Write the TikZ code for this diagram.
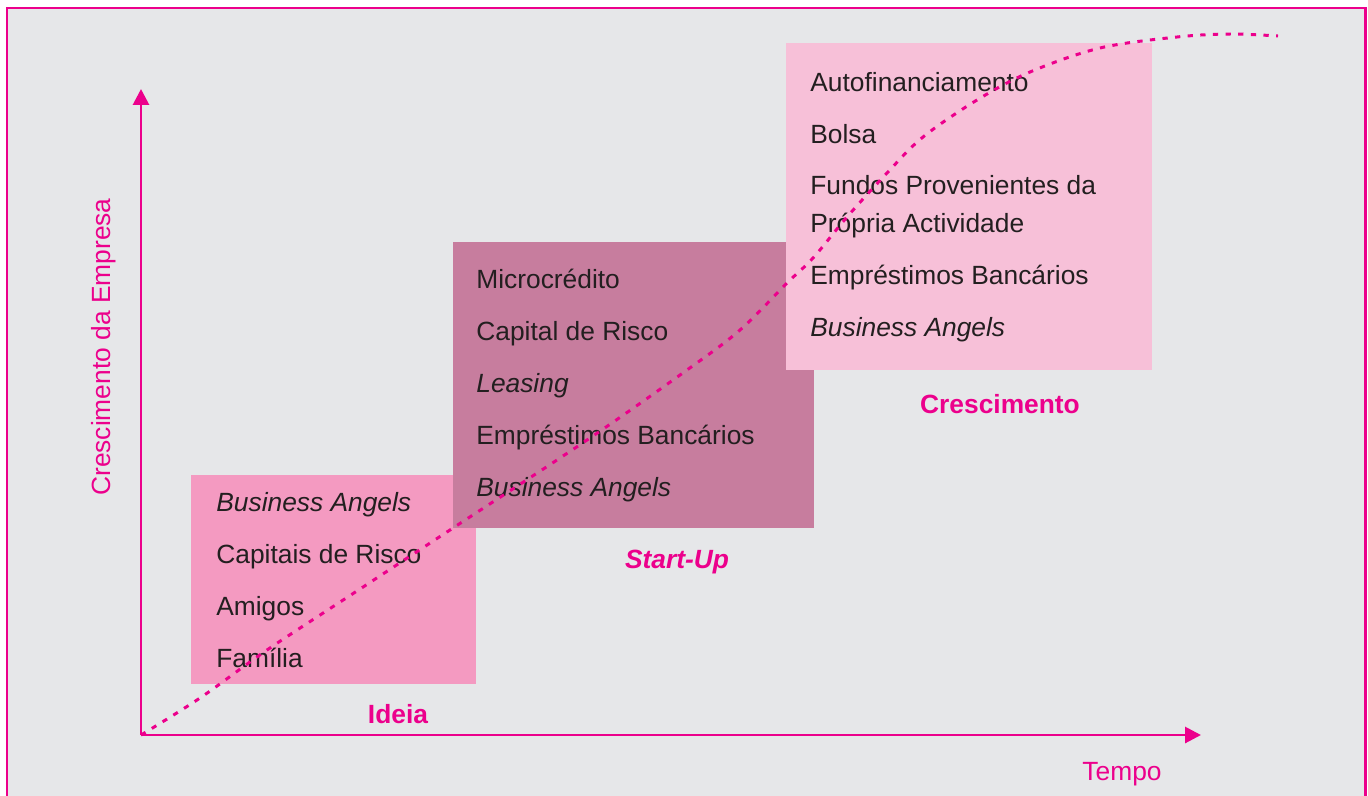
\documentclass[tikz,border=0pt]{standalone}
\usepackage{fontspec}
\setmainfont{Liberation Sans}
\usetikzlibrary{arrows.meta}

\definecolor{framepink}{HTML}{EC008C}
\definecolor{bggray}{HTML}{E6E7E9}
\definecolor{ideiafill}{HTML}{F49AC1}
\definecolor{startfill}{HTML}{C77D9E}
\definecolor{crescfill}{HTML}{F7C0D8}
\definecolor{txt}{HTML}{231F20}

\begin{document}
\begin{tikzpicture}[x=0.02cm, y=-0.02cm,
    item/.style={anchor=base west, inner sep=0pt, text=txt, font=\fontsize{15pt}{18pt}\selectfont},
    stage/.style={anchor=base, inner sep=0pt, text=framepink, font=\fontsize{15pt}{18pt}\selectfont\bfseries},
    axislabel/.style={anchor=base, inner sep=0pt, text=framepink, font=\fontsize{15pt}{18pt}\selectfont},
    axis/.style={-{Triangle[length=9pt,width=9pt]}, line width=1.6pt, draw=framepink},
    growth/.style={draw=framepink, line width=1.7pt, dash pattern=on 3pt off 4.2pt}]

    \clip (0,0) rectangle (1368,795);
    \fill[bggray] (7,8) rectangle (1365,830);
    \draw[framepink, line width=1.7pt] (7,830) -- (7,8) -- (1365,8) -- (1365,830);

    % axes
    \coordinate (o) at (141,735);
    \coordinate (ytip) at (141,89);
    \coordinate (xtip) at (1201,735);
    \draw[axis] (o) -- (ytip);
    \draw[axis] (o) -- (xtip);
    \node[axislabel, rotate=90] (ylab) at (110,347) {Crescimento da Empresa};
    \node[axislabel] (tempo) at (1122,780) {Tempo};

    % Ideia
    \fill[ideiafill] (191,475) rectangle (476,684);
    \node[item] (i1) at (216,511) {\itshape Business Angels};
    \node[item] (i2) at (216,563) {Capitais de Risco};
    \node[item] (i3) at (216,615) {Amigos};
    \node[item] (i4) at (216,667) {Família};
    \node[stage] (ideia) at (398,723) {Ideia};

    % Start-Up
    \fill[startfill] (453,242) rectangle (814,528);
    \node[item] (s1) at (476,288) {Microcrédito};
    \node[item] (s2) at (476,340) {Capital de Risco};
    \node[item] (s3) at (476,392) {\itshape Leasing};
    \node[item] (s4) at (476,444) {Empréstimos Bancários};
    \node[item] (s5) at (476,496) {\itshape Business Angels};
    \node[stage] (startup) at (677,568) {\itshape Start-Up};

    % Crescimento
    \fill[crescfill] (786,43) rectangle (1152,370);
    \node[item] (c1) at (810,91) {Autofinanciamento};
    \node[item] (c2) at (810,143) {Bolsa};
    \node[item] (c3) at (810,194) {Fundos Provenientes da};
    \node[item] (c4) at (810,232) {Própria Actividade};
    \node[item] (c5) at (810,284) {Empréstimos Bancários};
    \node[item] (c6) at (810,336) {\itshape Business Angels};
    \node[stage] (cresc) at (1000,413) {Crescimento};

    % growth curve
    \draw[growth] plot[smooth, tension=0.55] coordinates {(o) (200,698) (267,650) (360,589) (453,528)
        (587,440) (687,370) (740,330) (787,283) (813,258) (847,217) (887,173) (923,137)
        (977,100) (1030,72) (1100,48) (1177,37) (1230,34) (1278,36)};
\end{tikzpicture}
\end{document}
